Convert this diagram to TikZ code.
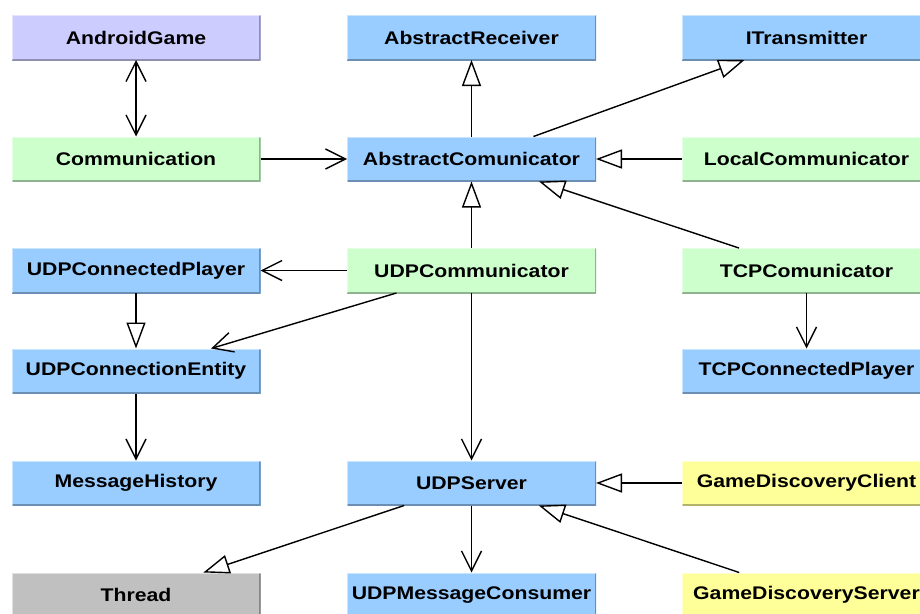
\documentclass[tikz,border=0pt]{standalone}
\usepackage{fontspec}
\setmainfont{Liberation Sans}[FakeStretch=1.16]
\usetikzlibrary{arrows.meta}
\definecolor{cpurple}{HTML}{CCCCFF}
\definecolor{cblue}{HTML}{99CCFF}
\definecolor{cgreen}{HTML}{CCFFCC}
\definecolor{cyellow}{HTML}{FFFF99}
\definecolor{cgray}{HTML}{C0C0C0}
\tikzset{
  cls/.style={rectangle, minimum width=249pt, minimum height=45pt, inner sep=0pt, outer sep=0pt,
    fill=#1, font=\fontsize{18.3}{20}\selectfont\bfseries,
    path picture={\draw[line width=3pt, #1!70!black]
      (path picture bounding box.north east) -- (path picture bounding box.south east)
      -- (path picture bounding box.south west);
      \draw[line width=2pt, white, opacity=0.5]
      (path picture bounding box.south west) -- (path picture bounding box.north west)
      -- (path picture bounding box.north east);}},
  conn/.style={line width=1.4pt, black},
  vtip/.tip={Straight Barb[length=20pt, width=20pt, line width=1.4pt]},
  inherit/.style={conn, -{Triangle[fill=white, length=26pt, width=19pt, line width=1.4pt]}},
  dep/.style={conn, -vtip},
  bidep/.style={conn, vtip-vtip},
}
\begin{document}
\begin{tikzpicture}[x=1pt, y=-1pt]
\useasboundingbox (0,0) rectangle (920,613);
% column centres 136, 471.5, 806.5 ; row centres 37.5, 159, 270.5, 371, 483, 595
\node[cls=cpurple] (ag)  at (136,37.5) {AndroidGame};
\node[cls=cblue]   (ar)  at (471.5,37.5) {AbstractReceiver};
\node[cls=cblue]   (it)  at (806.5,37.5) {ITransmitter};

\node[cls=cgreen]  (com) at (136,159) {Communication};
\node[cls=cblue]   (ac)  at (471.5,159) {AbstractComunicator};
\node[cls=cgreen]  (lc)  at (806.5,159) {LocalCommunicator};

\node[cls=cblue]   (ucp) at (136,270.5) {UDPConnectedPlayer};
\node[cls=cgreen]  (uc)  at (471.5,270.5) {UDPCommunicator};
\node[cls=cgreen]  (tc)  at (806.5,270.5) {TCPComunicator};

\node[cls=cblue]   (uce) at (136,371) {UDPConnectionEntity};
\node[cls=cblue]   (tcp) at (806.5,371) {TCPConnectedPlayer};

\node[cls=cblue]   (mh)  at (136,483) {MessageHistory};
\node[cls=cblue]   (us)  at (471.5,483) {UDPServer};
\node[cls=cyellow] (gdc) at (806.5,483) {GameDiscoveryClient};

\node[cls=cgray]   (th)  at (136,595) {Thread};
\node[cls=cblue]   (umc) at (471.5,595) {UDPMessageConsumer};
\node[cls=cyellow] (gds) at (806.5,595) {GameDiscoveryServer};

% connectors
\draw[bidep] (ag) -- (com);
\draw[dep] (com) -- (ac);
\draw[inherit] (ac) -- (ar);
\draw[inherit] (ac) -- (it);
\draw[inherit] (lc) -- (ac);
\draw[inherit] (tc) -- (ac);
\draw[inherit] (uc) -- (ac);
\draw[dep] (uc) -- (ucp);
\draw[dep] (uc) -- (uce);
\draw[inherit] (ucp) -- (uce);
\draw[dep] (uce) -- (mh);
\draw[dep] (uc) -- (us);
\draw[dep] (tc) -- (tcp);
\draw[inherit] (gdc) -- (us);
\draw[inherit] (gds) -- (us);
\draw[inherit] (us) -- (th);
\draw[dep] (us) -- (umc);
\end{tikzpicture}
\end{document}
